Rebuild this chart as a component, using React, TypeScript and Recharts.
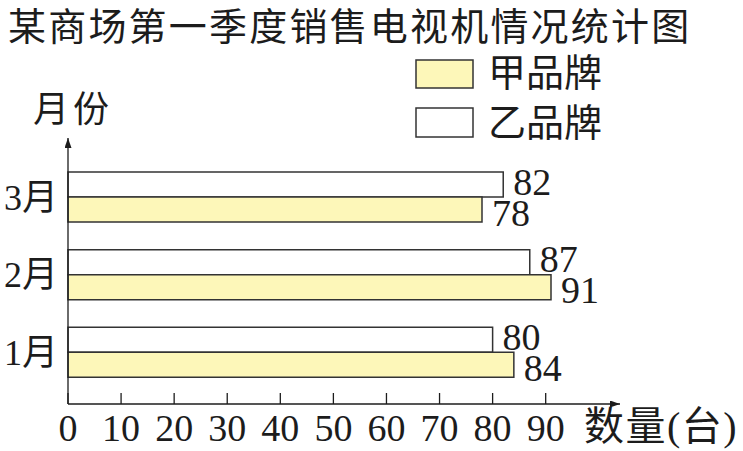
import React from 'react'
import { Bar, BarChart, LabelList, XAxis, YAxis } from 'recharts'

const months = ['1月', '2月', '3月']
const brandA = [84, 91, 78] // 甲品牌
const brandB = [80, 87, 82] // 乙品牌
const xTicks = [0, 10, 20, 30, 40, 50, 60, 70, 80, 90]

const serif = "'Liberation Serif', 'Noto Sans CJK SC', serif"
const sans = "'Noto Sans CJK SC', sans-serif"
const ink = '#1c1c1c'
const yellow = '#fdf7b9'

// top row is 3月, so build the table bottom-up
const data = months.map((m, i) => ({ month: m, a: brandA[i], b: brandB[i] })).reverse()

const XTick = (props: any) => {
  const { x, y, payload } = props
  return (
    <g>
      <line x1={x} y1={y} x2={x} y2={y - 11} stroke={ink} strokeWidth={1.3} />
      <text x={x} y={y + 37} textAnchor='middle' fontSize={38} fill={ink} fontFamily={serif}>
        {payload.value}
      </text>
    </g>
  )
}

// value label right of the bar, nudged up (乙) or down (甲) like the print
const valueLabel = (shift: number) => (p: any) => {
  const { x, y, width, height, value } = p
  return (
    <text x={x + width + 10} y={y + height / 2 + shift + 13} fontSize={38} fill={ink} fontFamily={serif}>
      {value}
    </text>
  )
}

const App = () => {
  return (
    <div style={{ position: 'absolute', left: 0, top: 0, width: 743, height: 451, background: '#fff' }}>
      <svg width={0} height={0} style={{ position: 'absolute' }}>
        <defs>
          <marker id='arr' viewBox='0 0 10 7' refX={10} refY={3.5} markerWidth={10} markerHeight={7} markerUnits='userSpaceOnUse' orient='auto-start-reverse'>
            <path d='M0,0 L10,3.5 L0,7 z' fill={ink} />
          </marker>
        </defs>
      </svg>
      <BarChart
        width={743}
        height={451}
        data={data}
        layout='vertical'
        margin={{ top: 138, right: 123, bottom: 0, left: 0 }}
        barGap={0}
      >
        <XAxis
          type='number'
          domain={[0, 104]}
          ticks={xTicks}
          height={47}
          tickSize={0}
          tickMargin={0}
          tickLine={false}
          tick={<XTick />}
          axisLine={{ stroke: ink, strokeWidth: 1.3, markerEnd: 'url(#arr)' }}
        />
        <YAxis
          type='category'
          dataKey='month'
          width={68}
          padding={{ top: 20, bottom: 13 }}
          tickSize={0}
          tickMargin={10}
          tickLine={false}
          tick={{ fontSize: 36, fill: ink, fontFamily: serif }}
          axisLine={{ stroke: ink, strokeWidth: 1.3, markerStart: 'url(#arr)' }}
        />
        <Bar dataKey='b' barSize={25} fill='#ffffff' stroke='#333' strokeWidth={1.5} isAnimationActive={false}>
          <LabelList dataKey='b' content={valueLabel(-3)} />
        </Bar>
        <Bar dataKey='a' barSize={25} fill={yellow} stroke='#333' strokeWidth={1.5} isAnimationActive={false}>
          <LabelList dataKey='a' content={valueLabel(3)} />
        </Bar>
      </BarChart>
      <svg width={743} height={451} style={{ position: 'absolute', left: 0, top: 0, pointerEvents: 'none' }}>
        <text x={8} y={40} fontSize={38} letterSpacing={2.2} fill={ink} fontFamily={sans}>
          某商场第一季度销售电视机情况统计图
        </text>
        <rect x={416} y={60} width={57} height={28} fill={yellow} stroke='#333' strokeWidth={1.5} />
        <text x={488} y={86} fontSize={38} fill={ink} fontFamily={serif}>甲品牌</text>
        <rect x={416} y={108} width={57} height={29} fill='#fff' stroke='#333' strokeWidth={1.5} />
        <text x={488} y={136} fontSize={38} fill={ink} fontFamily={serif}>乙品牌</text>
        <text x={33} y={122} fontSize={36} letterSpacing={4} fill={ink} fontFamily={serif}>月份</text>
        <text x={584} y={440} fontSize={40} letterSpacing={1.5} fill={ink} fontFamily={serif}>数量(台)</text>
      </svg>
    </div>
  )
}

export default App
